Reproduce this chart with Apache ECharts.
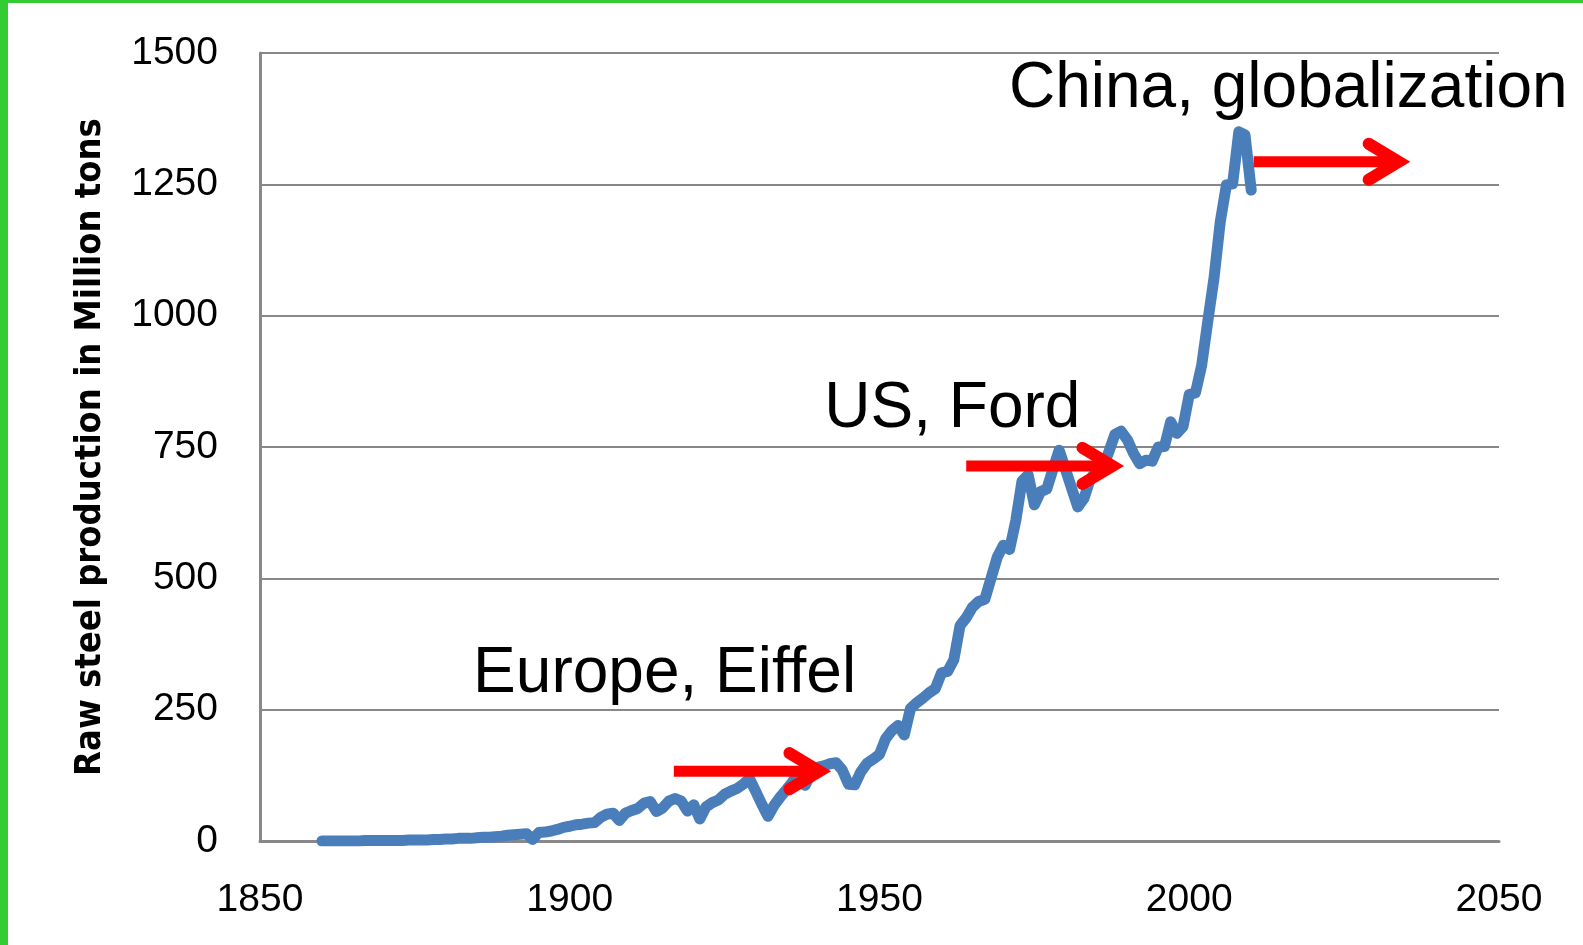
<!DOCTYPE html>
<html>
<head>
<meta charset="utf-8">
<title>Raw steel production</title>
<script src="https://cdn.jsdelivr.net/npm/echarts@6/dist/echarts.min.js"></script>
<style>
  html, body { margin: 0; padding: 0; background: #ffffff; }
  #chart { position: absolute; left: 0; top: 0; width: 1583px; height: 945px; }
  .edge { position: absolute; background: #33cc33; pointer-events: none; }
</style>
</head>
<body>
<div id="chart"></div>
<div class="edge" style="left:0;top:0;width:8px;height:945px;"></div>
<div class="edge" style="left:0;top:0;width:1583px;height:3px;"></div>
<script>
// World raw steel production, million tons per year
const years = [];
for (let y = 1860; y <= 2010; y++) years.push(y);
const production = [
  0, 0, 0, 0, 0, 0, 0, 1, 1, 1,            // 1860-1869
  1, 1, 1, 1, 2, 2, 2, 2, 3, 3,            // 1870-1879
  4, 4, 5, 5, 5, 6, 7, 7, 8, 9,            // 1880-1889
  11, 12, 13, 14, 3, 16, 17, 19, 22, 26,   // 1890-1899
  28, 31, 32, 34, 35, 45, 51, 53, 39, 53,  // 1900-1909
  58, 62, 72, 75, 56, 63, 76, 81, 76, 57,  // 1910-1919
  69, 42, 65, 73, 78, 89, 95, 100, 108, 119, // 1920-1929
  95, 70, 47, 68, 84, 98, 113, 130, 106, 130, // 1930-1939
  140, 143, 147, 149, 135, 108, 107, 132, 148, 156, // 1940-1949
  165, 195, 210, 220, 202, 252, 263, 272, 282, 290, // 1950-1959
  320, 323, 345, 410, 425, 445, 456, 460, 500, 540, // 1960-1969
  563, 555, 610, 685, 697, 640, 665, 670, 708, 744, // 1970-1979
  708, 672, 636, 652, 688, 705, 710, 740, 774, 780, // 1980-1989
  764, 738, 718, 725, 723, 750, 751, 798, 776, 789, // 1990-1999
  850, 853, 905, 990, 1072, 1178, 1249, 1251, 1350, 1344, // 2000-2009
  1239                                      // 2010
];

// Axis scales
const xMin = 1850, xMax = 2050, xStep = 50;
const yMin = 0, yMax = 1500, yStep = 250;

// Era annotations: text anchored at [year, value]
const noteText = ['Europe, Eiffel', 'US, Ford', 'China, globalization'];
const noteYear = [1884.4, 1941.1, 1970.9];
const noteValue = [317, 822, 1430];

// Arrows: shaft start year, tip year, level
const arrowFrom = [1916.8, 1964.0, 2010.4];
const arrowTo = [1942.4, 1989.7, 2035.9];
const arrowLevel = [133, 714, 1293];

const seriesData = years.map((y, i) => [y, production[i]]);
const arrowData = arrowFrom.map((x0, i) => [x0, arrowTo[i], arrowLevel[i]]);
const noteData = noteText.map((t, i) => [noteYear[i], noteValue[i], i]);

const chart = echarts.init(document.getElementById('chart'), null, { renderer: 'canvas' });

const gridColor = '#888888';
const tickFont = 'Liberation Sans, Arial, sans-serif';

chart.setOption({
  animation: false,
  backgroundColor: '#ffffff',
  grid: { left: 260, right: 84, top: 53, bottom: 104, containLabel: false },
  xAxis: {
    type: 'value', min: xMin, max: xMax, interval: xStep,
    axisLine: { show: true, lineStyle: { color: gridColor, width: 3 } },
    axisTick: { show: false },
    splitLine: { show: false },
    axisLabel: { color: '#000', fontFamily: tickFont, fontSize: 39, margin: 40,
                 formatter: v => String(v) }
  },
  yAxis: {
    type: 'value', min: yMin, max: yMax, interval: yStep,
    axisLine: { show: true, lineStyle: { color: gridColor, width: 3 } },
    axisTick: { show: false },
    splitLine: { show: true, lineStyle: { color: gridColor, width: 2 } },
    axisLabel: { color: '#000', fontFamily: tickFont, fontSize: 39, margin: 42,
                 formatter: v => String(v) }
  },
  graphic: [{
    type: 'text',
    x: 91, y: 447,
    rotation: Math.PI / 2,
    style: {
      text: 'Raw steel production in Million tons',
      font: 'bold 36px "Liberation Sans Narrow", "DejaVu Sans Condensed", "Liberation Sans", sans-serif',
      fill: '#000',
      align: 'center',
      verticalAlign: 'middle'
    }
  }],
  series: [
    {
      type: 'line',
      data: seriesData,
      showSymbol: false,
      symbol: 'none',
      lineStyle: { color: '#4a7ebb', width: 11, cap: 'round', join: 'round' },
      z: 2
    },
    {
      type: 'custom',
      data: arrowData,
      encode: { x: [0, 1], y: 2 },
      clip: false,
      z: 5,
      renderItem: function (params, api) {
        const p0 = api.coord([api.value(0), api.value(2)]);
        const p1 = api.coord([api.value(1), api.value(2)]);
        // the miter of the head reaches past its vertex, so the vertex sits a bit short of the tip
        const vx = p1[0] - 13, vy = p1[1];
        const hx = 30, hy = 18;
        return {
          type: 'group',
          children: [
            {
              type: 'line',
              shape: { x1: p0[0], y1: p0[1], x2: vx - 4, y2: vy },
              style: { stroke: '#ff0000', lineWidth: 11, lineCap: 'butt' }
            },
            {
              type: 'polyline',
              shape: { points: [[vx - hx, vy - hy], [vx, vy], [vx - hx, vy + hy]] },
              style: { stroke: '#ff0000', fill: null, lineWidth: 12, lineCap: 'round', lineJoin: 'miter', miterLimit: 10 }
            }
          ]
        };
      }
    },
    {
      type: 'custom',
      data: noteData,
      encode: { x: 0, y: 1 },
      clip: false,
      z: 6,
      renderItem: function (params, api) {
        const p = api.coord([api.value(0), api.value(1)]);
        return {
          type: 'text',
          x: p[0], y: p[1],
          style: {
            text: noteText[api.value(2)],
            font: '64px "Liberation Sans", Arial, sans-serif',
            fill: '#000',
            align: 'left',
            verticalAlign: 'middle'
          }
        };
      }
    }
  ]
});
</script>
</body>
</html>
